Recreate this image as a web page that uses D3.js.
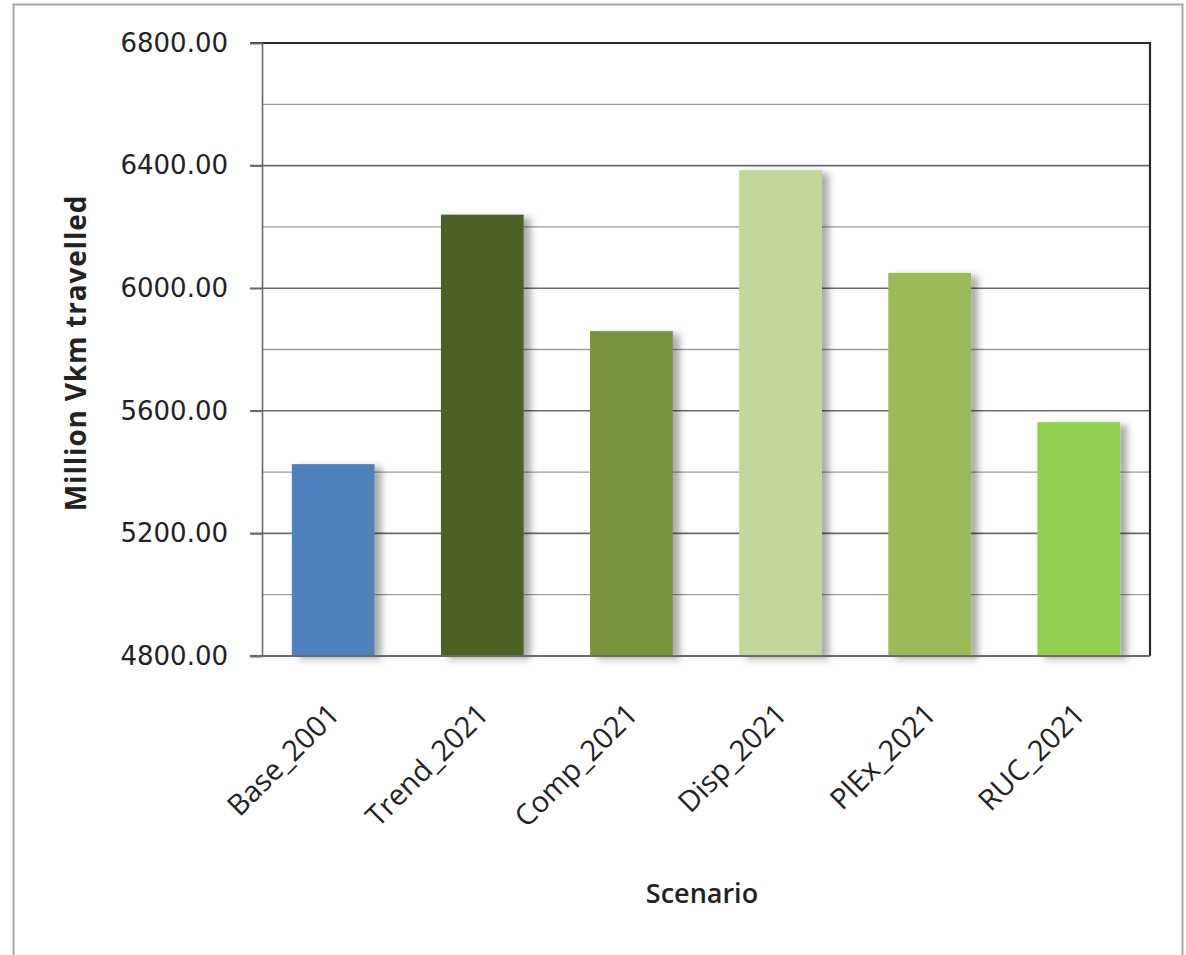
<!DOCTYPE html>
<html><head><meta charset="utf-8">
<script src="https://cdn.jsdelivr.net/npm/d3@7"></script>
<style>body{margin:0;background:#fff;}svg{display:block;}</style>
</head><body>
<svg id="chart" width="1186" height="955"></svg>
<script>
const categories = ["Base_2001","Trend_2021","Comp_2021","Disp_2021","PlEx_2021","RUC_2021"];
const values = [5426, 6240, 5860, 6385, 6050, 5563];
const colors = ["#4f81bd","#4f6228","#77933c","#c3d69b","#9bbb59","#92d050"];
const majorTicks = [4800, 5200, 5600, 6000, 6400, 6800];
const minorTicks = [5000, 5400, 5800, 6200, 6600];
const yTitle = "Million Vkm travelled";
const xTitle = "Scenario";

const svg = d3.select("#chart");
const m = {left: 262, right: 1150, top: 43, bottom: 656};

const defs = svg.append("defs");
const f = defs.append("filter").attr("id","shadow").attr("x","-20%").attr("y","-10%").attr("width","150%").attr("height","130%");
f.append("feDropShadow").attr("dx",7).attr("dy",3).attr("stdDeviation",3.5).attr("flood-color","#000").attr("flood-opacity",0.33);

// outer frame
svg.append("rect").attr("x",13.5).attr("y",4.5).attr("width",1169).attr("height",1000)
  .attr("fill","none").attr("stroke","#a6a6a6").attr("stroke-width",2);

const x = d3.scaleBand().domain(categories).range([m.left, m.right]).paddingInner(0.445).paddingOuter(0.2);
const y = d3.scaleLinear().domain([4800, 6800]).range([m.bottom, m.top]);

// gridlines
svg.append("g").selectAll("line").data(minorTicks).join("line")
  .attr("x1", m.left).attr("x2", m.right).attr("y1", d=>y(d)).attr("y2", d=>y(d))
  .attr("stroke","#9a9a9a").attr("stroke-width",1.3);
svg.append("g").selectAll("line").data(majorTicks.slice(1,-1)).join("line")
  .attr("x1", m.left-12).attr("x2", m.right).attr("y1", d=>y(d)).attr("y2", d=>y(d))
  .attr("stroke","#6a6a6a").attr("stroke-width",1.6);

// bars
svg.append("g").selectAll("rect").data(categories).join("rect")
  .attr("x", d=>x(d)).attr("width", x.bandwidth())
  .attr("y", (d,i)=>y(values[i])).attr("height", (d,i)=>y(4800)-y(values[i]))
  .attr("fill", (d,i)=>colors[i]).attr("filter","url(#shadow)");

// frame lines: top & right dark
svg.append("path").attr("d", `M${m.left-12},${m.top}H${m.right}V${m.bottom}`)
  .attr("fill","none").attr("stroke","#2a2a2a").attr("stroke-width",2.2);
// bottom axis line
svg.append("line").attr("x1",m.left-12).attr("x2",m.right).attr("y1",m.bottom).attr("y2",m.bottom)
  .attr("stroke","#6a6a6a").attr("stroke-width",1.8);
// y axis
const yAxis = d3.axisLeft(y).tickValues(majorTicks).tickFormat(d3.format(".2f")).tickSize(12).tickPadding(22);
const gy = svg.append("g").attr("transform",`translate(${m.left},0)`).call(yAxis);
gy.attr("font-family", null);
gy.select(".domain").attr("stroke","#6a6a6a").attr("stroke-width",1.6);
gy.selectAll(".tick line").attr("stroke","#6a6a6a").attr("stroke-width",1.6);
gy.selectAll("text").style("font-family","'DejaVu Sans', Verdana, sans-serif").attr("font-size",26).attr("fill","#222");

// x axis labels
const xAxis = d3.axisBottom(x).tickSize(0).tickPadding(0);
const gx = svg.append("g").attr("transform",`translate(0,${m.bottom})`).call(xAxis);
gx.select(".domain").remove();
gx.selectAll("text")
  .style("font-family","'Open Sans', Carlito, sans-serif").attr("font-size",29).attr("fill","#222")
  .attr("text-anchor","end").attr("dy",null).attr("y",0)
  .attr("transform","translate(8,60) rotate(-45)");

// titles
svg.append("text").attr("transform","translate(86,353) rotate(-90)")
  .attr("text-anchor","middle").attr("font-family","'Open Sans', sans-serif")
  .attr("font-weight","bold").attr("font-size",28).attr("letter-spacing",0.8).attr("fill","#222").text(yTitle);
svg.append("text").attr("x",702).attr("y",903)
  .attr("text-anchor","middle").attr("font-family","'Open Sans', sans-serif")
  .attr("font-weight","600").attr("font-size",27).attr("fill","#222").text(xTitle);
</script>
</body></html>
